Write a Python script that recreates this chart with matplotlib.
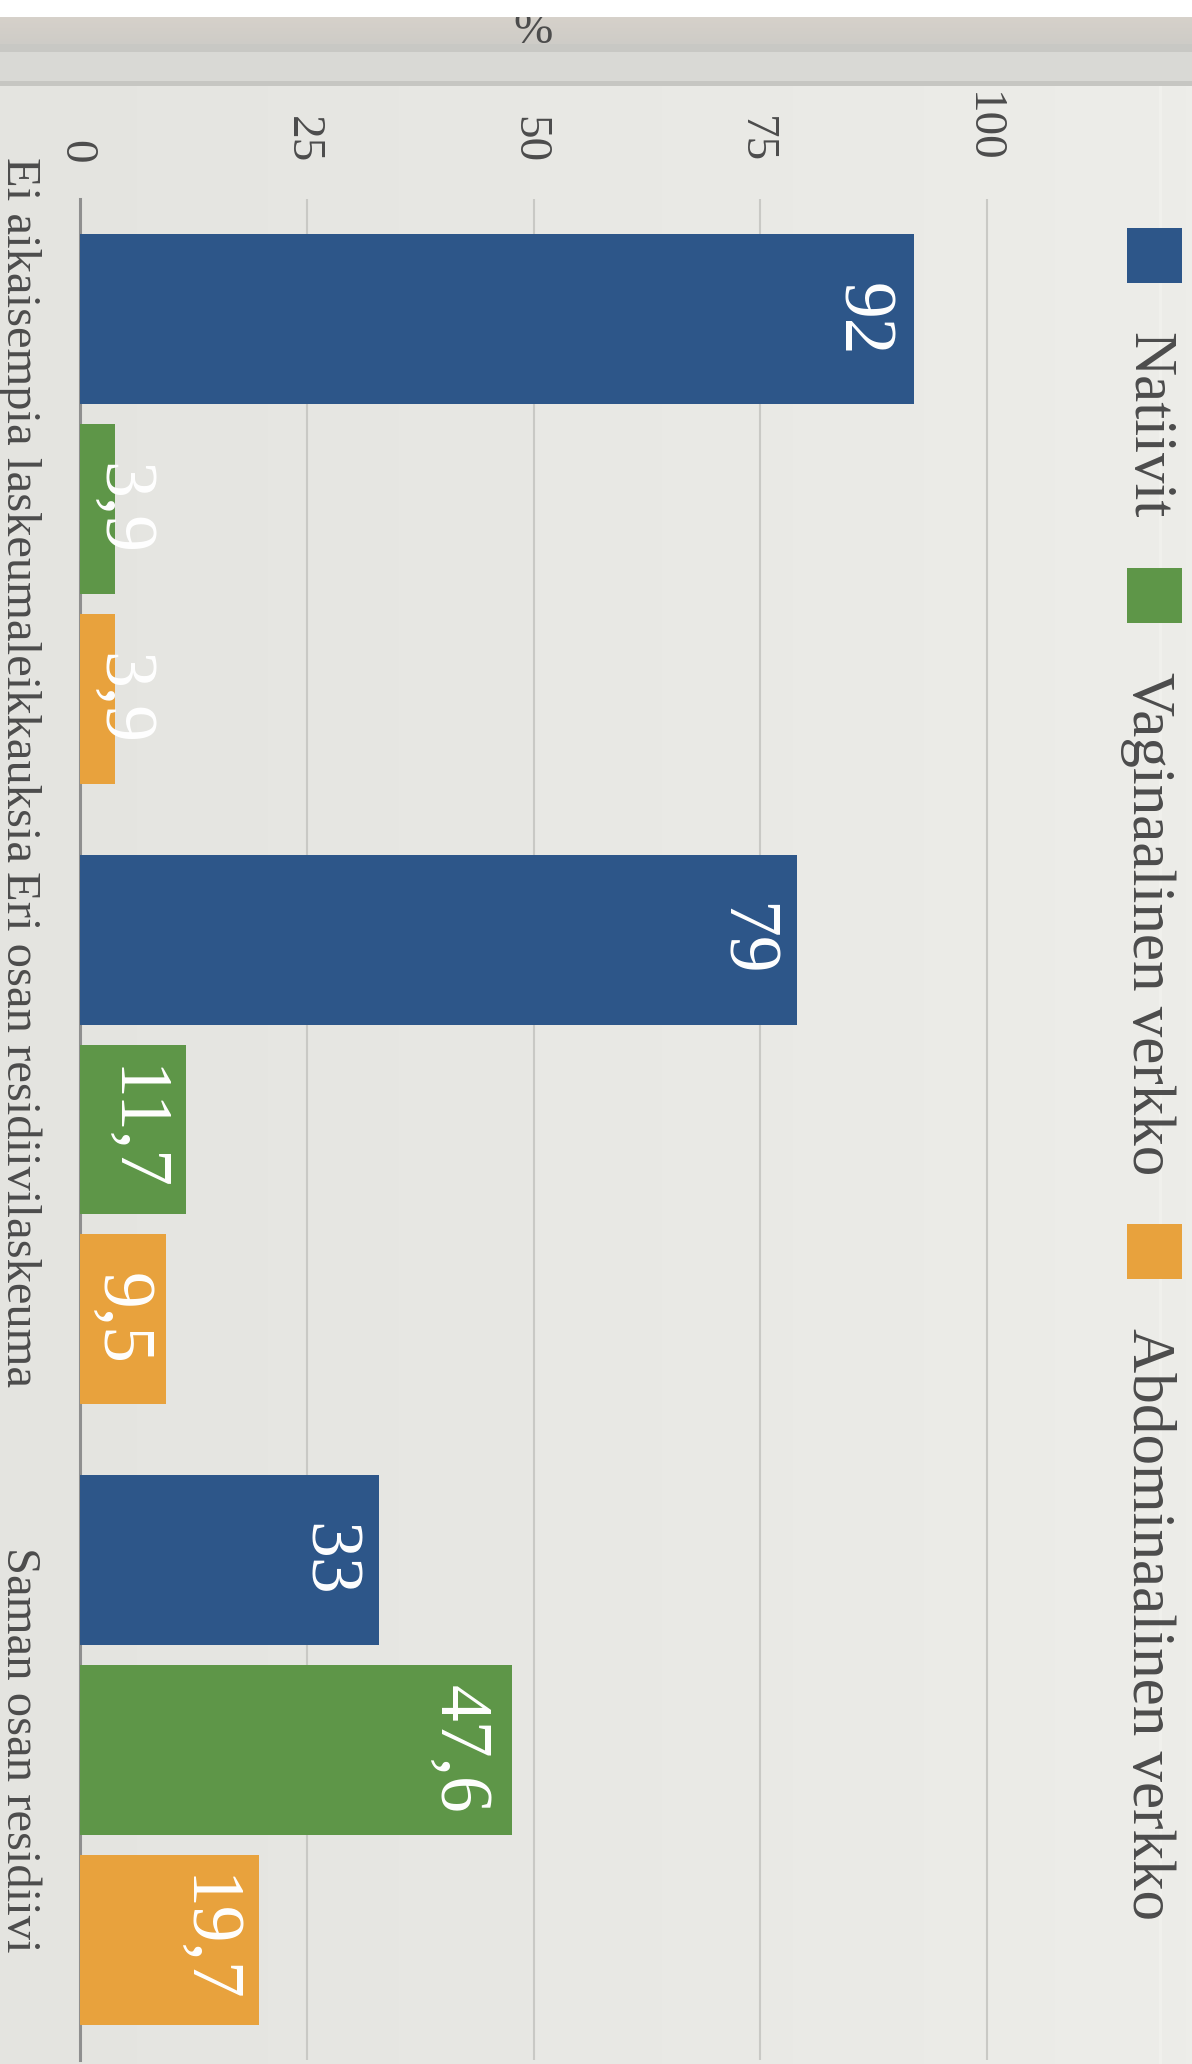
import matplotlib
matplotlib.use("Agg")
import matplotlib.pyplot as plt
import numpy as np
from matplotlib.patches import Rectangle
from matplotlib.lines import Line2D
from matplotlib import transforms

# data
categories = ["Ei aikaisempia laskeumaleikkauksia", "Eri osan residiivilaskeuma", "Saman osan residiivi"]
series_names = ["Natiivit", "Vaginaalinen verkko", "Abdominaalinen verkko"]
natiivit = [92, 79, 33]
vaginaalinen = [3.9, 11.7, 47.6]
abdominaalinen = [3.9, 9.5, 19.7]
value_ticks = [0, 25, 50, 75, 100]
value_title = "%"

colors = ["#2d5689", "#5e9648", "#e8a23d"]
text_col = "#4c4c4c"
font = ["Liberation Serif", "DejaVu Serif"]
plt.rcParams['font.family'] = font

W, H, DPI = 1192, 2064, 100
fig = plt.figure(figsize=(W / DPI, H / DPI), dpi=DPI)
fig.patch.set_facecolor("#e6e6e2")


def fx(px):
    return px / W


def fy(py):
    # py measured from the top edge
    return 1 - py / H


# textured-ish background: soft horizontal gradient
bg = fig.add_axes([0, 0, 1, 1], zorder=-10)
left_c = np.array([228, 228, 224]) / 255
right_c = np.array([237, 237, 233]) / 255
t = np.linspace(0, 1, 200)[None, :, None]
bg.imshow(left_c + (right_c - left_c) * t, aspect="auto", extent=[0, 1, 0, 1])
bg.axis("off")

# header band at the top of the slide
band_h = 86
rows = []
for r in range(band_h):
    if r < 17:
        c = (255, 255, 255)
    elif r < 44:
        k = (r - 17) / 27
        c = (214 - 8 * k, 209 - 5 * k, 202 - 3 * k)
    elif r < 52:
        c = (200, 200, 196)
    elif r < 81:
        c = (217, 217, 213)
    else:
        c = (198, 198, 194)
    rows.append(c)
band = np.array(rows)[:, None, :] / 255
hdr = fig.add_axes([0, fy(band_h), 1, band_h / H], zorder=1)
hdr.imshow(band, aspect="auto", extent=[0, 1, 0, 1])
hdr.axis("off")

# faint light line on the right of the slide
fig.add_artist(Line2D([fx(1160), fx(1160)], [0, fy(band_h)], color="#f2f2ee", lw=2, alpha=0.8, zorder=-5))

# main axes: value 0 at x=80px, 1 unit = 9.07px
px_per_unit = 9.07
x0_px, top_px, bot_px = 80, 199, 2060
xmax = 100.5
ax = fig.add_axes([fx(x0_px), fy(bot_px), fx(xmax * px_per_unit), (bot_px - top_px) / H], zorder=2)
ax.set_facecolor("none")

y = np.arange(len(categories))
series = [natiivit, vaginaalinen, abdominaalinen]
offsets = [-0.306, 0.0, 0.306]
bar_h = 0.274

for vals, off, c in zip(series, offsets, colors):
    ax.barh(y + off, vals, height=bar_h, color=c, zorder=3)
    for yi, v in zip(y, vals):
        end_px = v * px_per_unit
        base_px = max(end_px - 22 - 50, 22)
        label = f"{v:g}".replace(".", ",")
        ax.text(base_px / px_per_unit, yi + off, label, rotation=-90, rotation_mode="anchor",
                ha="center", va="baseline", color="white", fontsize=53, zorder=4)

ax.set_xlim(0, xmax)
ax.set_ylim(2.5, -0.5)

# value ticks: gridlines from the axis, labels placed by hand (rotated)
ax.set_xticks(value_ticks)
ax.tick_params(axis="x", length=0, labelbottom=False, labeltop=False)
ax.grid(axis="x", color="#c9c9c5", lw=1.5)
ax.set_axisbelow(True)
tick_tr = transforms.offset_copy(transforms.blended_transform_factory(ax.transData, ax.transAxes),
                                 fig=fig, x=-16, y=36, units="dots")
for v in value_ticks:
    ax.text(v, 1, str(v), transform=tick_tr, rotation=-90, rotation_mode="anchor",
            ha="right", va="baseline", fontsize=34, color=text_col, clip_on=False)

ax.set_yticks(y)
ax.set_yticklabels(categories, rotation=-90, va="center", fontsize=35, color=text_col)
ax.tick_params(axis="y", length=0, pad=28)

for s in ["top", "right", "bottom"]:
    ax.spines[s].set_visible(False)
ax.spines["left"].set_color("#8f8f8f")
ax.spines["left"].set_linewidth(2.2)

# value axis title, partly hidden under the white strip
fig.text(fx(x0_px + 50 * px_per_unit), fy(43), value_title, ha="center", va="baseline",
         fontsize=34, color=text_col, zorder=1.5)
fig.add_artist(Rectangle((0, fy(17)), 1, 17 / H, transform=fig.transFigure,
                         facecolor="white", edgecolor="none", zorder=3))

# legend, rotated like the rest of the slide
sq = 55
square_tops = [228, 568, 1224]
for name, c, top in zip(series_names, colors, square_tops):
    fig.add_artist(Rectangle((fx(1127), fy(top + sq)), fx(sq), sq / H, transform=fig.transFigure,
                             facecolor=c, edgecolor="none", zorder=4))
    fig.text(fx(1133), fy(top + sq + 49), name, rotation=-90, rotation_mode="anchor",
             ha="left", va="baseline", fontsize=44, color=text_col, zorder=4)

fig.savefig("out.png", dpi=DPI)
